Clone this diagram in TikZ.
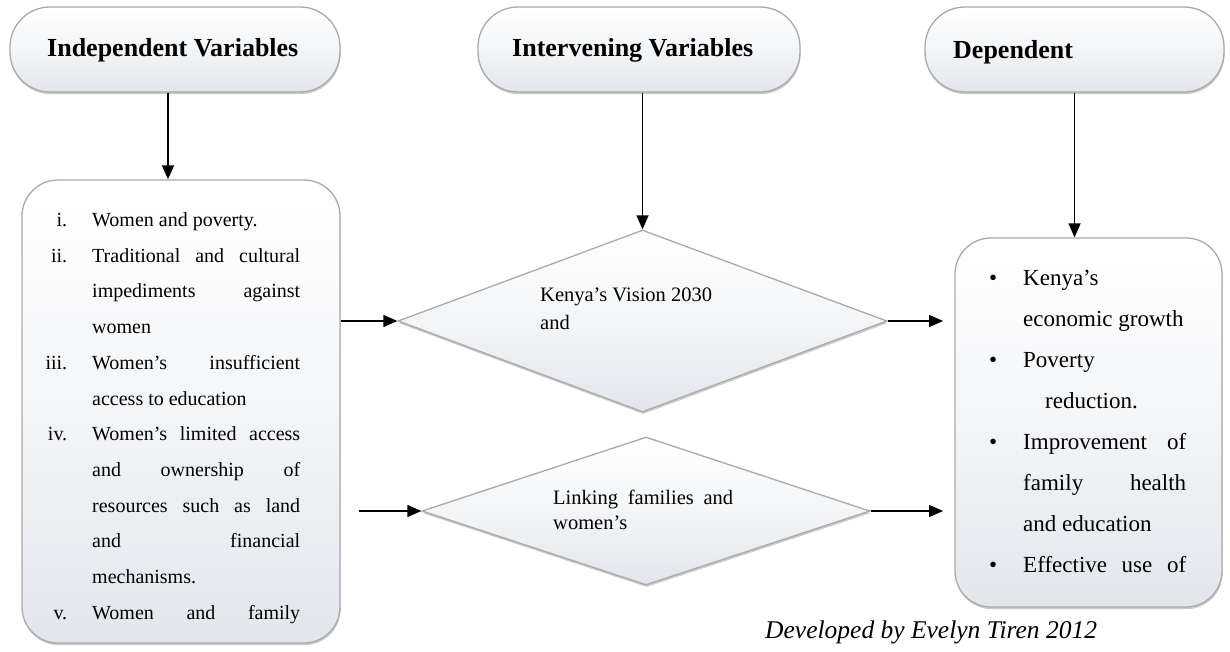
\documentclass[tikz,border=0pt]{standalone}
\usepackage{fontspec}
\setmainfont{Liberation Serif}
\usetikzlibrary{arrows.meta,shapes.geometric,shadows}
\definecolor{boxbot}{RGB}{226,230,235}
\definecolor{boxedge}{RGB}{170,170,170}
\newcommand\romlab[1]{\makebox[22pt][r]{#1}\hspace*{25pt}}
\newcommand\bul{\makebox[16pt][c]{\textbullet}\hspace*{22pt}}
\begin{document}
\begin{tikzpicture}[x=1pt,y=-1pt,
  shp/.style={draw=boxedge, line width=1.3pt, top color=white, bottom color=boxbot, middle color=white!60!boxbot,
    drop shadow={shadow xshift=0.6pt, shadow yshift=-2.2pt, fill=black, opacity=0.2}},
  pill/.style={shp, rectangle, rounded corners=40pt, inner sep=0pt},
  card/.style={shp, rectangle, rounded corners=36pt, inner sep=0pt},
  dia/.style={shp, diamond, inner sep=0pt},
  hdr/.style={font=\fontsize{26}{30}\selectfont\bfseries, inner sep=0pt, anchor=base west},
  txt/.style={inner sep=0pt, anchor=base west},
  arr/.style={line width=1.4pt, -{Triangle[length=14pt,width=12pt]}}]
\fill[white] (0,0) rectangle (1230,652);
\useasboundingbox (0,0) rectangle (1230,652);

% shapes
\node[pill, minimum width=330pt, minimum height=85pt] (p1) at (175,49.5) {};
\node[pill, minimum width=322pt, minimum height=85pt] (p2) at (639,49.5) {};
\node[pill, minimum width=299pt, minimum height=85pt] (p3) at (1074.5,49.5) {};
\node[card, minimum width=318pt, minimum height=463pt] (b1) at (181,411.5) {};
\node[card, minimum width=267pt, minimum height=369pt] (b2) at (1088.5,422.5) {};
\node[dia, minimum width=489pt, minimum height=182pt] (d1) at (642.5,321) {};
\node[dia, minimum width=448pt, minimum height=148pt] (d2) at (646,511) {};

% headers
\node[hdr] (t1) at (47,57) {Independent Variables};
\node[hdr] (t2) at (512,57) {Intervening Variables};
\node[hdr] (t3) at (953,59) {Dependent};

% left list
\node[txt, font=\fontsize{20}{35.7}\selectfont] (l1) at (45,226.5) {\begin{tabular}[t]{@{}l@{}}
\romlab{i.}Women and poverty.\\
\romlab{ii.}\makebox[208pt][s]{Traditional and cultural}\\
\hspace*{47pt}\makebox[208pt][s]{impediments against}\\
\hspace*{47pt}women\\
\romlab{iii.}\makebox[208pt][s]{Women's insufficient}\\
\hspace*{47pt}access to education\\
\romlab{iv.}\makebox[208pt][s]{Women's limited access}\\
\hspace*{47pt}\makebox[208pt][s]{and ownership of}\\
\hspace*{47pt}\makebox[208pt][s]{resources such as land}\\
\hspace*{47pt}\makebox[208pt][s]{and financial}\\
\hspace*{47pt}mechanisms.\\
\romlab{v.}\makebox[208pt][s]{Women and family}
\end{tabular}};

% right list
\node[txt, font=\fontsize{23}{41}\selectfont] (r1) at (985,285) {\begin{tabular}[t]{@{}l@{}}
\bul Kenya's\\
\hspace*{38pt}economic growth\\
\bul Poverty\\
\hspace*{60pt}reduction.\\
\bul\makebox[163pt][s]{Improvement of}\\
\hspace*{38pt}\makebox[163pt][s]{family health}\\
\hspace*{38pt}and education\\
\bul\makebox[163pt][s]{Effective use of}
\end{tabular}};

% diamond texts
\node[txt, font=\fontsize{20.5}{28}\selectfont] (k1) at (540,301) {\begin{tabular}[t]{@{}l@{}}Kenya's Vision 2030\\and\end{tabular}};
\node[txt, font=\fontsize{20.5}{25}\selectfont] (k2) at (553,504.5) {\begin{tabular}[t]{@{}l@{}}\makebox[180pt][s]{Linking families and}\\women's\end{tabular}};

% credit
\node[txt, font=\fontsize{25.5}{30}\selectfont\itshape] (cr) at (765,638) {Developed by Evelyn Tiren 2012};

% connectors
\coordinate (x1) at (168,0);
\coordinate (tipx) at (943,0);
\draw[arr] (x1 |- p1.south) -- (x1 |- b1.north);
\draw[arr] (d1.north |- p2.south) -- (d1.north);
\draw[arr] (p3.south) -- (p3.south |- b2.north);
\draw[arr] (b1.east |- d1.west) -- (d1.west);
\draw[arr] ([xshift=18pt]b1.east |- d2.west) -- (d2.west);
\draw[arr] (d1.east) -- (tipx |- d1.east);
\draw[arr] (d2.east) -- (tipx |- d2.east);
\end{tikzpicture}
\end{document}
